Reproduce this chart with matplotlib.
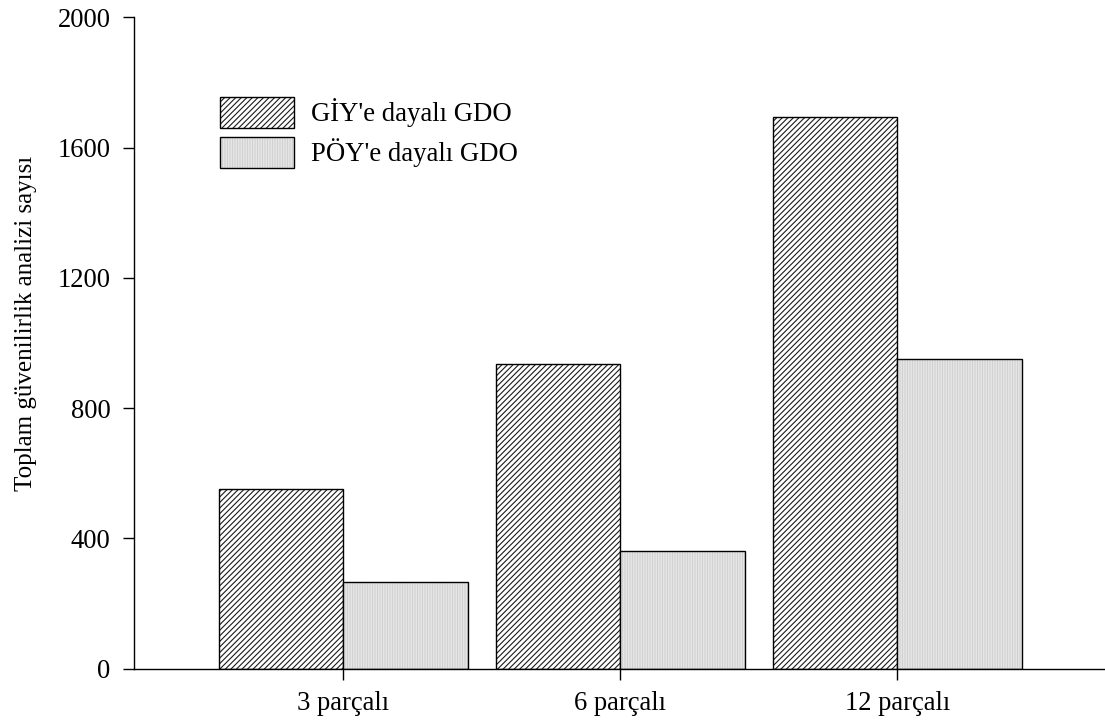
import matplotlib
matplotlib.use("Agg")
import matplotlib.pyplot as plt
from matplotlib.patches import Patch
from matplotlib.legend_handler import HandlerTuple
import numpy as np

categories = ["3 parçalı", "6 parçalı", "12 parçalı"]
giy_values = [552, 937, 1695]
poy_values = [265, 362, 950]
series_labels = ["GİY'e dayalı GDO", "PÖY'e dayalı GDO"]
y_ticks = [0, 400, 800, 1200, 1600, 2000]
y_label = "Toplam güvenilirlik analizi sayısı"

plt.rcParams["font.family"] = ["Liberation Serif", "DejaVu Serif"]
plt.rcParams["hatch.linewidth"] = 0.8

fig = plt.figure(figsize=(11.05, 7.25), dpi=100)
ax = fig.add_axes([0.1213, 0.0779, 0.8787, 0.898])

x = np.arange(len(categories))
w = 0.45
DIAG = "//////"
VERT = "||||||||||"
DIAG_COLOR = "#1a1a1a"
DOT_FACE = "#f6f6f6"
DOT_COLOR = "#d0d0d0"

# hatched series (dense diagonal lines)
ax.bar(x - w / 2, giy_values, width=w, facecolor="white", edgecolor=DIAG_COLOR,
       hatch=DIAG, linewidth=0)
ax.bar(x - w / 2, giy_values, width=w, facecolor="none", edgecolor="black",
       linewidth=1.0)
# fine light-grey vertical texture
ax.bar(x + w / 2, poy_values, width=w, facecolor=DOT_FACE, edgecolor=DOT_COLOR,
       hatch=VERT, linewidth=0)
ax.bar(x + w / 2, poy_values, width=w, facecolor="none", edgecolor="black",
       linewidth=1.0)

ax.set_xlim(-0.755, 2.75)
ax.set_ylim(0, 2000)
ax.set_yticks(y_ticks)
ax.set_xticks(x)
ax.set_xticklabels(categories)
ax.tick_params(axis="both", direction="out", length=8, width=1.0, labelsize=19.2)
ax.tick_params(axis="y", pad=9)
ax.tick_params(axis="x", pad=8)
for s in ["top", "right"]:
    ax.spines[s].set_visible(False)
for s in ["left", "bottom"]:
    ax.spines[s].set_linewidth(1.0)

ax.set_ylabel(y_label, fontsize=18)
ax.yaxis.set_label_coords(-0.100, 0.53)

outline = dict(facecolor="none", edgecolor="black", linewidth=1.0)
handles = [
    (Patch(facecolor="white", edgecolor=DIAG_COLOR, hatch=DIAG, linewidth=0),
     Patch(**outline)),
    (Patch(facecolor=DOT_FACE, edgecolor=DOT_COLOR, hatch=VERT, linewidth=0),
     Patch(**outline)),
]
ax.legend(handles, series_labels, loc="upper left", bbox_to_anchor=(0.089, 0.878),
          frameon=False, fontsize=19.3, handlelength=2.75, handleheight=1.38,
          handletextpad=0.62, labelspacing=0.36, borderaxespad=0, borderpad=0,
          handler_map={tuple: HandlerTuple(ndivide=1, pad=0)})

fig.savefig("out.png", dpi=100)
